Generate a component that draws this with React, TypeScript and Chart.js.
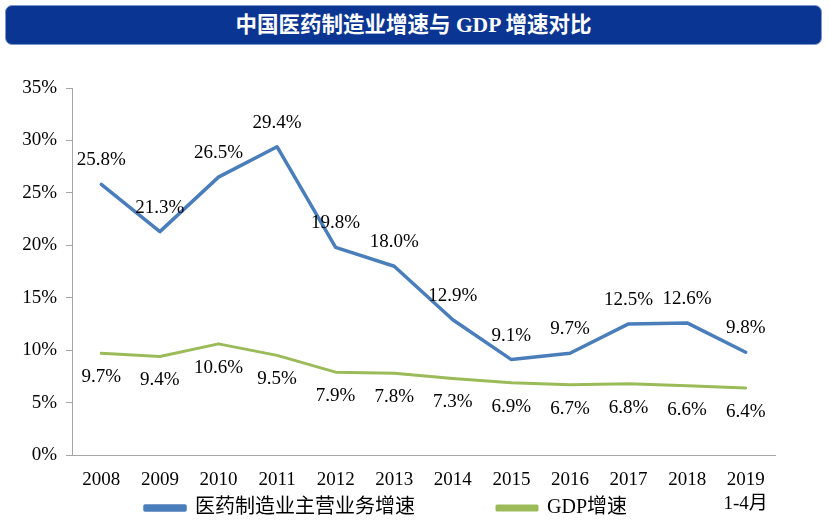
import React, { useEffect, useRef } from 'react';
import { Chart, registerables } from 'chart.js';

Chart.register(...registerables);

// ---- data ----
const categoryLabels: (string | string[])[] = [
  '2008', '2009', '2010', '2011', '2012', '2013', '2014', '2015', '2016', '2017', '2018', ['2019', '1-4月'],
];
const pharmaGrowth = [25.8, 21.3, 26.5, 29.4, 19.8, 18.0, 12.9, 9.1, 9.7, 12.5, 12.6, 9.8];
const gdpGrowth = [9.7, 9.4, 10.6, 9.5, 7.9, 7.8, 7.3, 6.9, 6.7, 6.8, 6.6, 6.4];
const seriesNames = ['医药制造业主营业务增速', 'GDP增速'];
const yTickMin = 0;
const yTickMax = 35;
const yTickStep = 5;
const titleText = '中国医药制造业增速与 GDP 增速对比';

const SERIF = '"Liberation Serif", "Times New Roman", "Noto Sans CJK SC", serif';

const valueLabels = {
  id: 'valueLabels',
  afterDatasetsDraw(chart: any, _args: any, opts: any) {
    const ctx = chart.ctx;
    ctx.save();
    ctx.font = `${opts.size}px ${SERIF}`;
    ctx.fillStyle = '#000';
    ctx.textAlign = 'center';
    ctx.textBaseline = 'middle';
    chart.data.datasets.forEach((ds: any, i: number) => {
      const meta = chart.getDatasetMeta(i);
      const off = opts.offsets[i];
      meta.data.forEach((pt: any, j: number) => {
        const v = ds.data[j] as number;
        ctx.fillText(v.toFixed(1) + '%', pt.x, pt.y + off);
      });
    });
    ctx.restore();
  },
};

const legendPlacement = {
  id: 'legendPlacement',
  afterLayout(chart: any, _args: any, opts: any) {
    const lg = chart.legend;
    if (!lg) return;
    const pad = lg.options.labels.padding;
    lg.left = opts.x - pad;
    lg.top = opts.y - pad;
  },
};

export default function App() {
  const ref = useRef<HTMLCanvasElement | null>(null);

  useEffect(() => {
    if (!ref.current) return;
    const chart = new Chart(ref.current, {
      type: 'line',
      data: {
        labels: categoryLabels as any,
        datasets: [
          {
            label: seriesNames[0],
            data: pharmaGrowth,
            borderColor: '#4A7EBB',
            backgroundColor: '#4A7EBB',
            borderWidth: 3.5,
            pointRadius: 0,
            tension: 0,
            fill: false,
            borderCapStyle: 'round',
            borderJoinStyle: 'round',
          },
          {
            label: seriesNames[1],
            data: gdpGrowth,
            borderColor: '#9BBB59',
            backgroundColor: '#9BBB59',
            borderWidth: 3,
            pointRadius: 0,
            tension: 0,
            fill: false,
            borderCapStyle: 'round',
            borderJoinStyle: 'round',
          },
        ],
      },
      options: {
        responsive: false,
        animation: false,
        devicePixelRatio: 1,
        layout: { padding: { top: 88, left: 0, right: 54, bottom: 0 } },
        scales: {
          x: {
            type: 'category',
            offset: true,
            grid: { display: false, drawTicks: false },
            border: { display: true, color: '#a6a6a6', width: 1 },
            ticks: {
              color: '#000',
              font: { family: SERIF, size: 19, lineHeight: 1.27 },
              padding: 13,
              autoSkip: false,
              maxRotation: 0,
              minRotation: 0,
            },
            afterFit(scale: any) {
              scale.height = 66;
            },
          },
          y: {
            min: yTickMin,
            max: yTickMax,
            ticks: {
              stepSize: yTickStep,
              color: '#000',
              font: { family: SERIF, size: 19 },
              padding: 9,
              callback: (v: any) => `${v}%`,
            },
            grid: { drawOnChartArea: false, drawTicks: true, tickLength: 6, color: '#a6a6a6' },
            border: { display: true, color: '#a6a6a6', width: 1 },
            afterFit(scale: any) {
              scale.width = 72;
            },
          },
        },
        plugins: {
          title: { display: false },
          tooltip: { enabled: false },
          legend: {
            display: true,
            position: 'bottom',
            align: 'start',
            maxHeight: 2,
            labels: {
              color: '#000',
              font: { family: SERIF, size: 20 },
              boxWidth: 40,
              boxHeight: 4,
              padding: 82,
            },
          },
          valueLabels: { size: 19, offsets: [-24, 24] },
          legendPlacement: { x: 145, y: 498 },
        } as any,
      },
      plugins: [valueLabels, legendPlacement],
    });
    return () => chart.destroy();
  }, []);

  return (
    <div style={{ position: 'fixed', left: 0, top: 0, width: 829, height: 523, background: '#fff', overflow: 'hidden' }}>
      <canvas ref={ref} width={829} height={523} style={{ position: 'absolute', left: 0, top: 0, display: 'block' }} />
      <div
        style={{
          position: 'absolute',
          left: 5,
          top: 5,
          width: 817,
          height: 40,
          boxSizing: 'border-box',
          borderRadius: 7,
          background: '#0B3592',
          border: '1px solid #7f97cc',
          color: '#fff',
          fontFamily: '"Liberation Serif", "Noto Sans CJK SC", serif',
          fontWeight: 'bold',
          fontSize: 21.5,
          lineHeight: '38px',
          textAlign: 'center',
          whiteSpace: 'nowrap',
        }}
      >
        {titleText}
      </div>
    </div>
  );
}
